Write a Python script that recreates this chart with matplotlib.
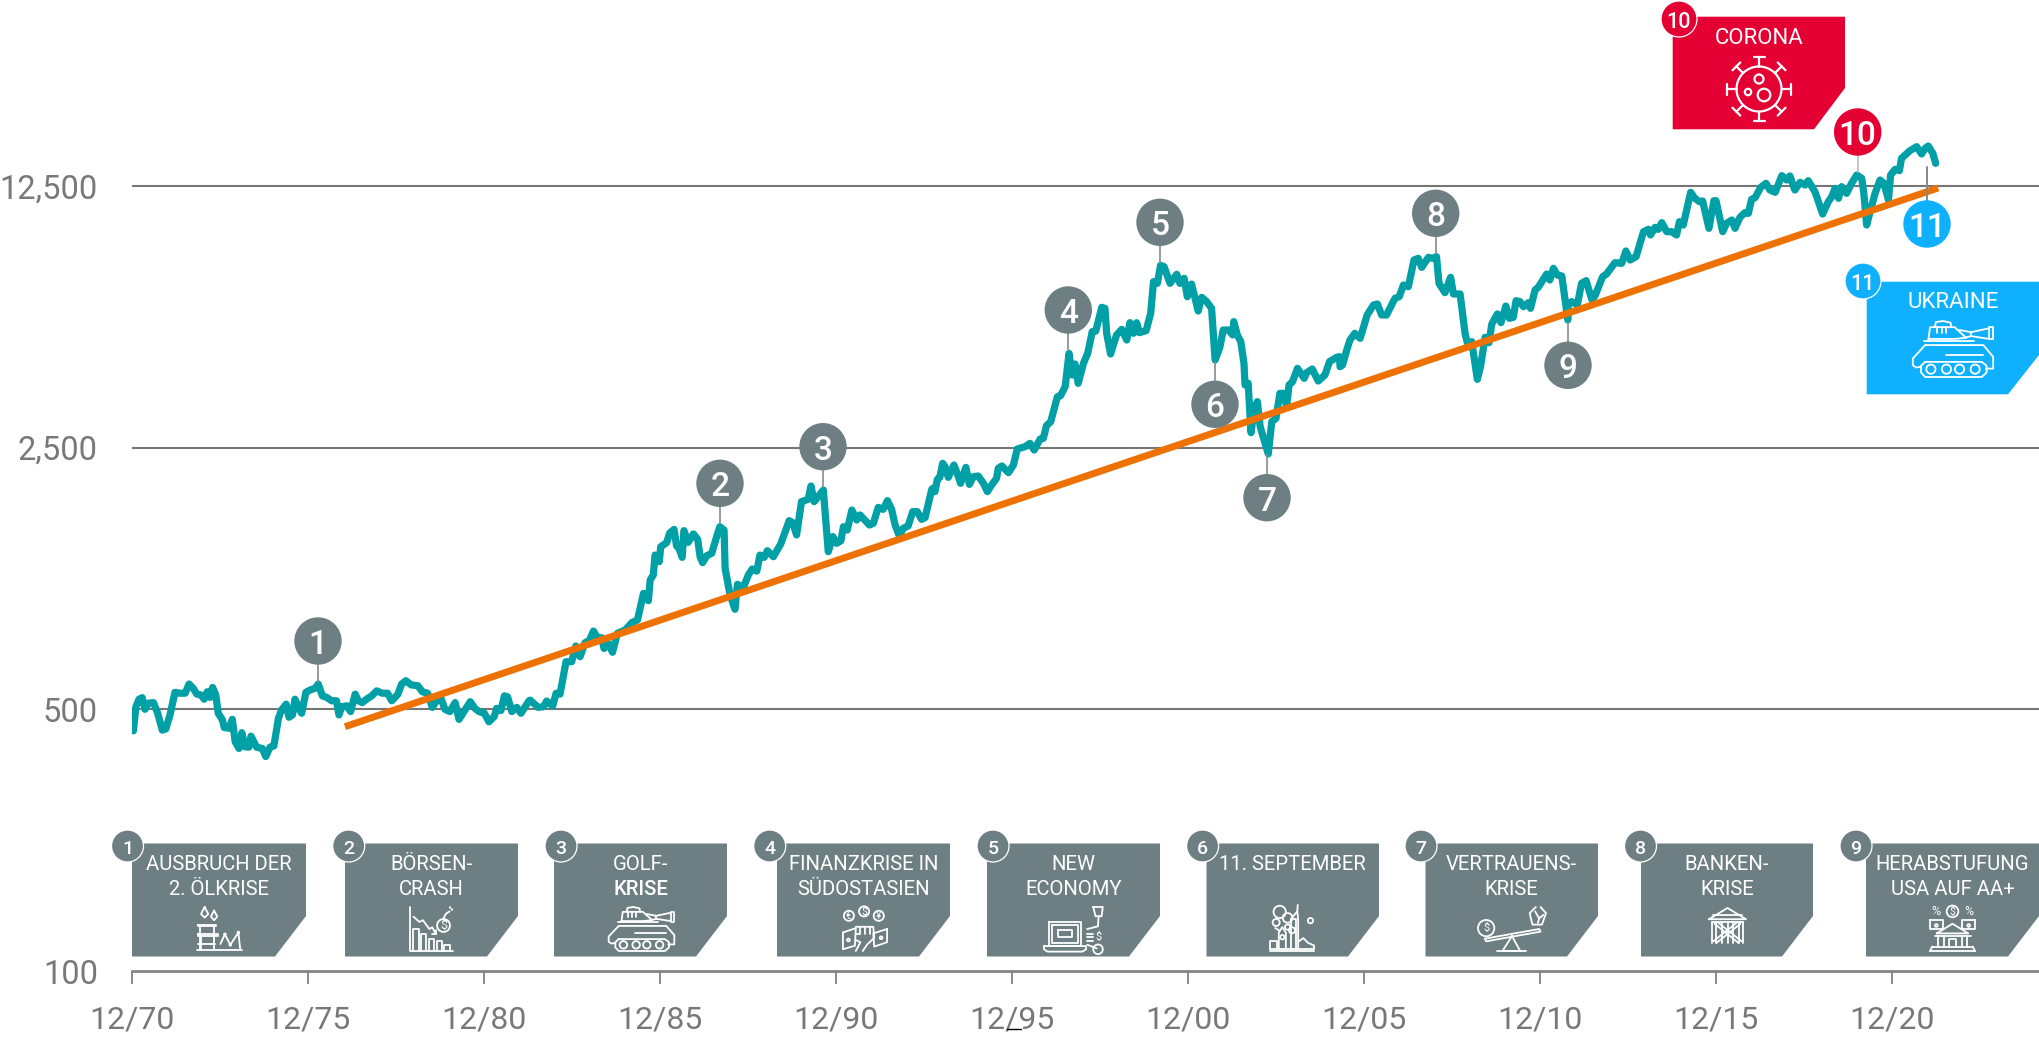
import matplotlib
matplotlib.use('Agg')
import matplotlib.pyplot as plt
from matplotlib.patches import Polygon, Circle, Ellipse
from matplotlib.lines import Line2D

plt.rcParams['font.family'] = ['Roboto', 'DejaVu Sans']

# ---------- data ----------
years_since_1900 = [70.96,71.03,71.12,71.21,71.29,71.38,71.53,71.65,71.78,71.88,72.00,72.14,72.28,72.43,72.54,
72.66,72.76,72.88,72.97,73.06,73.14,73.21,73.30,73.37,73.49,73.54,73.68,73.77,73.85,73.96,74.04,74.13,
74.24,74.30,74.46,74.62,74.72,74.84,74.95,75.08,75.17,75.30,75.38,75.48,75.55,75.66,75.74,75.86,75.98,
76.12,76.21,76.33,76.45,76.59,76.73,76.80,76.88,77.02,77.13,77.26,77.35,77.46,77.62,77.73,77.87,78.03,
78.18,78.30,78.47,78.58,78.70,78.85,79.04,79.17,79.32,79.45,79.60,79.70,79.81,79.95,80.10,80.21,80.38,
80.53,80.66,80.78,80.93,81.06,81.21,81.28,81.40,81.50,81.59,81.71,81.85,81.97,82.20,82.23,82.46,82.61,
82.70,82.87,82.97,83.08,83.25,83.41,83.53,83.65,83.79,83.91,84.03,84.15,84.26,84.33,84.45,84.57,84.71,
84.93,85.12,85.28,85.45,85.59,85.64,85.73,85.78,85.90,85.94,86.11,86.19,86.32,86.39,86.46,
86.55,86.60,86.72,86.87,86.99,87.06,87.13,87.25,87.39,87.53,87.62,87.74,87.77,87.91,88.05,
88.12,88.29,88.43,88.54,88.67,88.76,88.88,88.97,89.14,89.35,89.59,89.69,89.80,89.94,90.13,
90.21,90.30,90.56,90.70,90.83,90.94,91.06,91.13,91.24,91.37,91.51,91.60,91.72,91.87,91.98,
92.12,92.26,92.38,92.50,92.60,92.72,92.83,92.97,93.10,93.23,93.35,93.45,93.64,93.67,93.73,
93.80,93.87,93.95,94.02,94.11,94.27,94.37,94.46,94.61,94.71,94.82,94.96,95.11,95.22,95.34,
95.48,95.53,95.63,95.82,95.96,96.07,96.29,96.43,96.55,96.72,96.81,96.90,97.02,97.11,97.21,
97.30,97.43,97.54,97.63,97.71,97.80,97.95,98.07,98.20,98.30,98.47,98.56,98.61,98.72,98.89,
99.04,99.18,99.27,99.37,99.46,99.54,99.73,99.86,99.94,100.05,100.14,100.24,100.41,100.60,100.69,
100.81,100.90,101.02,101.21,101.31,101.45,101.59,101.69,101.83,101.92,102.07,102.19,102.22,102.32,
102.42,102.51,102.54,102.63,102.71,102.80,102.89,102.97,103.20,103.30,103.42,103.53,103.65,103.72,
103.79,103.89,104.03,104.22,104.29,104.45,104.62,104.81,104.94,105.14,105.22,105.24,105.31,105.43,
105.52,105.66,105.81,106.01,106.19,106.30,106.42,106.56,106.80,106.92,107.04,107.18,107.34,107.46,
107.56,107.75,107.87,107.98,108.05,108.22,108.38,108.46,108.65,108.79,108.86,108.98,109.14,109.23,
109.36,109.47,109.55,109.71,109.81,109.95,110.05,110.16,110.24,110.35,110.45,110.59,110.65,110.78,
110.87,111.11,111.20,111.30,111.41,111.54,111.71,111.72,111.82,111.98,112.10,112.23,112.39,112.48,
112.70,112.81,113.05,113.24,113.36,113.48,113.65,113.86,114.00,114.06,114.19,114.28,114.38,114.52,
114.66,114.80,114.88,114.99,115.20,115.32,115.45,115.54,115.72,115.86,115.92,116.11,116.22,
116.37,116.46,116.60,116.74,116.84,116.93,117.03,117.19,117.34,117.45,117.60,117.79,117.93,
118.02,118.16,118.31,118.45,118.54,118.73,118.83,118.95,119.11,119.21,119.30,119.40,119.49,
119.63,119.77,119.92,120.06,120.12,120.20,120.31,120.44,120.58,120.69,120.82,120.88,121.01,
121.13,121.19,121.43,121.62,121.76,121.86,121.95,122.08,122.16]
index_value = [438,508,532,537,500,519,521,488,440,443,483,555,552,552,584,
569,549,546,532,557,538,572,546,488,468,447,445,470,410,393,433,397,
396,424,396,393,374,396,399,473,498,516,476,483,532,503,488,555,563,
569,584,543,538,527,527,483,508,511,493,549,527,521,535,543,560,552,
552,527,548,584,596,581,578,557,552,506,532,534,500,493,521,470,498,
524,503,493,488,463,478,503,496,543,540,493,506,488,527,529,506,508,
526,510,552,549,670,670,738,691,753,763,809,774,777,727,750,710,798,
814,852,866,1020,975,1107,1142,1291,1240,1359,1393,1476,1512,1365,1346,
1273,1500,1396,1470,1422,1278,1232,1286,1305,1446,1537,1506,1190,1010,925,
1078,1059,1142,1185,1170,1291,1273,1326,1278,1382,1595,1576,1461,1793,1819,
1974,1793,1926,1318,1446,1388,1410,1537,1506,1703,1602,1652,1608,1553,1569,
1731,1710,1804,1710,1553,1452,1522,1544,1686,1686,1608,1625,1934,1946,1907,
2057,2082,2269,2223,2082,2246,2125,2007,2214,1994,2091,2099,2007,1907,1986,
2069,2201,2233,2143,2246,2479,2514,2566,2463,2636,2647,2861,2932,3150,3420,
3441,3637,4464,3907,4180,3712,4198,4464,5100,5121,5923,5887,5048,4446,4997,
5174,4845,5390,5048,5390,5069,5132,5709,6936,6866,7669,7607,6866,7256,6866,
7080,6325,6837,5791,6299,6134,5887,4285,4651,5153,5153,4997,5424,4997,
4796,4198,3674,3712,2740,3150,3316,2843,2404,2932,2993,3490,3490,3216,
3674,3750,4071,3828,3963,4054,3765,3907,4241,4355,4373,4112,4155,4556,
4845,5048,4895,5651,6009,6046,5651,5651,6261,6325,6796,6726,7925,8007,
7575,8056,8007,8089,6866,6483,7124,6430,6430,5048,4747,4796,3804,4112,
4925,4767,5346,5686,5390,5972,5536,5570,6171,6134,5948,6096,5887,6590,
6699,7271,7008,7529,7227,7182,5480,6009,6134,6009,6866,6979,6222,6351,
7153,7271,7796,7764,8376,7925,8089,9433,9570,9242,9688,9570,9970,9433,
9433,9242,10032,9828,12015,11580,11345,11391,9629,11415,11415,9433,9930,
10135,9629,10303,10603,10559,11509,11627,12390,12699,12189,12015,13312,12962,
13285,12189,12777,12569,12909,12064,11345,10516,11345,11699,12314,11580,12441,
11941,12699,13367,13095,11941,9828,10778,11941,12962,12699,11462,13367,13841,
13728,14809,15524,15911,15209,15749,15976,15272,14361]
trend_years = [76.97, 122.23]
trend_values = [449.3, 12340]
grid_levels = [500, 2500, 12500]
y_tick_values = [100, 500, 2500, 12500]
y_tick_labels = ['100', '500', '2,500', '12,500']
x_tick_years = [70.92 + 5 * k for k in range(11)]
x_tick_labels = ['12/70','12/75','12/80','12/85','12/90','12/95','12/00','12/05','12/10','12/15','12/20']
panel_titles = [('AUSBRUCH DER','2. ÖLKRISE'),('BÖRSEN-','CRASH'),('GOLF-','KRISE'),('FINANZKRISE IN','SÜDOSTASIEN'),
                ('NEW','ECONOMY'),('11. SEPTEMBER',''),('VERTRAUENS-','KRISE'),('BANKEN-','KRISE'),('HERABSTUFUNG','USA AUF AA+')]

# ---------- colours ----------
TEAL = '#00A0A6'; ORANGE = '#EE7203'; GRID = '#767676'; SLATE = '#6E7F83'
TXT = '#787878'; RED = '#E40032'; BLUE = '#0FB1FF'

W, H = 2039, 1038
fig = plt.figure(figsize=(W/100, H/100), dpi=100)
ax = fig.add_axes([132/W, 1-971/H, (W-132)/W, 971/H])
ax.set_yscale('log')
ax.set_xlim(70.92, 70.92 + (W-132)/35.2)
ax.set_ylim(100, 100 * 5 ** (971/261.7))
for lv in grid_levels:
    ax.axhline(lv, color=GRID, lw=1.5, zorder=1)
ax.plot(years_since_1900, index_value, color=TEAL, lw=5.2, solid_joinstyle='round', solid_capstyle='round', zorder=2)
ax.plot(trend_years, trend_values, color=ORANGE, lw=5.0, solid_capstyle='butt', zorder=3)
for s in ['top', 'left', 'right']:
    ax.spines[s].set_visible(False)
ax.spines['bottom'].set_color('#858585'); ax.spines['bottom'].set_linewidth(2.0)
ax.set_xticks(x_tick_years); ax.set_xticklabels(x_tick_labels, fontsize=23, color=TXT)
ax.tick_params(axis='x', length=9, width=1.1, color='#6a6a6a', pad=15.5)
ax.set_yticks(y_tick_values); ax.set_yticklabels(y_tick_labels, fontsize=23.5, color=TXT)
ax.minorticks_off()
ax.tick_params(axis='y', length=0, pad=24.5)
ax.patch.set_alpha(0)

ov = fig.add_axes([0, 0, 1, 1], zorder=5)
ov.set_xlim(0, W); ov.set_ylim(H, 0); ov.axis('off')

LW = 1.3
def line(pts, c='white', lw=LW, z=8):
    ov.add_line(Line2D([p[0] for p in pts], [p[1] for p in pts], color=c, lw=lw, zorder=z,
                       solid_joinstyle='round', solid_capstyle='round'))

class Ic:
    """Icon canvas: unit box 0..100 mapped on a pixel box."""
    def __init__(s, x0, y0, x1, y1):
        s.x0, s.y0, s.sx, s.sy = x0, y0, (x1-x0)/100, (y1-y0)/100
    def p(s, pts):
        return [(s.x0+x*s.sx, s.y0+y*s.sy) for x, y in pts]
    def l(s, *pts):
        line(s.p(pts))
    def o(s, cx, cy, r, fc='none'):
        (x, y), = s.p([(cx, cy)])
        ov.add_patch(Ellipse((x, y), 2*r, 2*r, fc=fc, ec='white', lw=LW, zorder=8))
    def t(s, x, y, txt, fs=7):
        (a, b), = s.p([(x, y)])
        ov.text(a, b, txt, color='white', fontsize=fs, ha='center', va='center', zorder=9)

def tank(x0, y0, x1, y1):
    i = Ic(x0, y0, x1, y1); r = (x1-x0)/100
    i.l((16,43),(87,43),(99,64),(99,85),(90,85))
    i.l((16,43),(1,67),(1,79),(5,83),(10,82))
    i.l((16,73),(85,73),(91,80),(91,92),(85,100),(16,100),(11,92),(11,80),(16,73))
    for cx in (23,42,58,77):
        i.o(cx, 86, 5.6*r)
    i.l((41,60),(87,60))
    i.l((15,35),(75,35))
    i.l((20,34),(22,11),(52,11),(66,30),(52,32),(20,32))
    i.l((28,11),(29,2),(38,0),(47,3),(48,11))
    i.l((30,11),(30,22)); i.l((36,11),(36,22)); i.l((42,11),(42,22))
    i.l((58,16),(72,20),(94,13),(94,32),(72,27),(64,30))
    i.l((94,11),(99,11),(99,33),(94,33)); i.l((72,20),(72,27))

def barrel_chart(x0, y0, x1, y1):
    i = Ic(x0, y0, x1, y1); r = (x1-x0)/100
    i.l((17,0),(9,16),(17,24),(25,16),(17,0)); i.l((38,8),(31,22),(38,30),(45,22),(38,8))
    i.l((2,40),(42,40),(42,44),(2,44),(2,40))
    i.l((2,62),(47,62),(47,66),(2,66),(2,62))
    i.l((6,44),(6,97)); i.l((38,44),(38,97)); i.l((8,66),(8,97))
    i.l((0,98),(100,98)); i.l((2,84),(40,84))
    i.l((52,84),(62,62),(74,86),(92,58),(96,96))
    for cx, cy in ((62,62),(92,58),(74,86)):
        i.o(cx, cy, 1.8*r, fc=SLATE)

def chart_bomb(x0, y0, x1, y1):
    i = Ic(x0, y0, x1, y1); r = (x1-x0)/100
    i.l((0,0),(0,100),(100,100))
    for x, h in ((8,50),(26,38),(44,28),(62,22),(80,14)):
        i.l((x,100),(x,100-h),(x+12,100-h),(x+12,100))
    i.l((8,22),(22,34),(30,30),(45,50),(52,46),(60,62)); i.l((52,62),(60,62),(60,52))
    i.o(78, 42, 15*r); i.t(78, 42, '$', 9)
    i.l((78,25),(84,15),(92,10)); i.l((98,4),(98,6)); i.l((92,0),(92,2))

def money_hand(x0, y0, x1, y1):
    i = Ic(x0, y0, x1, y1); r = (x1-x0)/100
    for cx, cy, s in ((15,20,'€'),(48,10,'$'),(80,20,'¥')):
        i.o(cx, cy, 11*r); i.t(cx, cy, s, 7.5)
    i.l((2,58),(30,48),(28,88),(2,96),(2,58))
    i.l((98,50),(68,60),(70,90),(98,80),(98,50))
    i.l((30,45),(68,45),(70,70),(55,85),(45,100))
    i.l((30,62),(40,62)); i.l((40,45),(40,62)); i.l((50,45),(50,62)); i.l((60,45),(60,62))
    i.l((30,75),(40,80),(30,100)); i.o(14,75,3*r); i.o(85,70,3*r)

def laptop_shop(x0, y0, x1, y1):
    i = Ic(x0, y0, x1, y1); r = (x1-x0)/100
    i.l((8,33),(62,33),(62,85),(8,85),(8,33))
    i.l((14,40),(56,40),(56,78),(14,78),(14,40))
    i.l((24,50),(46,50),(46,66),(24,66),(24,50))
    i.l((0,85),(70,85),(70,92),(64,97),(6,97),(0,92),(0,85))
    i.l((82,0),(98,0),(96,20),(86,20),(82,0)); i.l((91,20),(90,42),(72,48))
    i.l((72,58),(82,58)); i.l((72,66),(82,66)); i.l((72,74),(82,74))
    i.t(91, 65, '$', 8); i.l((72,82),(88,90)); i.o(90, 92, 8*r)

def city_smoke(x0, y0, x1, y1):
    i = Ic(x0, y0, x1, y1); r = (x1-x0)/100
    i.l((0,100),(100,100)); i.l((0,95),(100,95))
    i.l((58,95),(58,30),(48,30),(48,95)); i.l((48,30),(62,14),(64,30),(64,95)); i.l((62,14),(63,0))
    i.l((0,95),(0,78),(16,78),(16,95)); i.l((20,95),(20,60),(28,48),(36,60),(36,95))
    i.l((64,80),(76,72),(86,82),(100,88),(100,95))
    i.o(22,15,14*r); i.o(40,28,11*r); i.o(14,38,8*r); i.o(50,55,7*r); i.o(28,70,5*r); i.o(92,34,6*r); i.o(40,48,6*r)
    i.l((12,50),(22,56))

def seesaw(x0, y0, x1, y1):
    i = Ic(x0, y0, x1, y1); r = (x1-x0)/100
    i.l((10,72),(90,50),(92,56),(12,78),(10,72))
    i.l((50,66),(36,100),(62,100),(50,66)); i.l((28,100),(70,100))
    i.o(12,48,12*r); i.t(12,48,'$',8)
    i.l((85,0),(76,14),(80,40),(94,40),(100,14),(92,0))
    i.l((84,10),(90,26),(88,36)); i.l((90,26),(96,18))

def barn(x0, y0, x1, y1):
    i = Ic(x0, y0, x1, y1)
    i.l((0,32),(50,0),(100,32),(0,32)); i.l((12,20),(88,20))
    i.l((8,40),(92,40)); i.l((8,40),(8,100)); i.l((92,40),(92,100))
    for x in (20,35,50,65,80):
        i.l((x,40),(x,100))
    i.l((15,45),(80,100)); i.l((25,42),(88,95)); i.l((85,45),(20,100)); i.l((75,42),(12,95))

def bank(x0, y0, x1, y1):
    i = Ic(x0, y0, x1, y1); r = (x1-x0)/100
    i.t(13,10,'%',9); i.t(87,10,'%',9); i.o(50,10,13*r); i.t(50,10,'$',7.5)
    i.l((0,30),(28,30),(28,50),(0,50),(0,30)); i.l((100,30),(72,30),(72,50),(100,50),(100,30))
    i.o(14,42,3*r); i.o(86,42,3*r)
    i.l((15,60),(50,38),(85,60),(15,60)); i.l((10,66),(90,66))
    for x in (18,30,70,82):
        i.l((x,66),(x,90))
    i.l((42,90),(42,72),(58,72),(58,90)); i.l((5,90),(95,90)); i.l((0,100),(100,100)); i.l((5,90),(0,100)); i.l((95,90),(100,100))

def virus(cx, cy):
    import math
    ov.add_patch(Circle((cx, cy), 22.5, fc='none', ec='white', lw=1.6, zorder=8))
    for k in range(8):
        a = k*math.pi/4
        c, s = math.cos(a), math.sin(a)
        line([(cx+22.5*c, cy+22.5*s), (cx+32*c, cy+32*s)], lw=1.6)
        line([(cx+32*c-5.5*s, cy+32*s+5.5*c), (cx+32*c+5.5*s, cy+32*s-5.5*c)], lw=1.6)
    for dx, dy, r in ((0,-10,4.5),(-11,3,3.2),(5,6,6.3)):
        ov.add_patch(Circle((cx+dx, cy+dy), r, fc='none', ec='white', lw=1.6, zorder=8))

def panel(l, t, r, b, cy, cb, col):
    ov.add_patch(Polygon([(l,t),(r,t),(r,cy),(cb,b),(l,b)], closed=True, fc=col, ec='none', zorder=6))

def badge(x, y, rad, txt, col, fs, ring=False, fw='medium', z=7):
    ov.add_patch(Circle((x, y), rad, fc=col, ec='white' if ring else 'none', lw=0.9, zorder=z))
    ov.text(x, y+0.5, txt, color='white', fontsize=fs, ha='center', va='center_baseline', fontweight=fw, zorder=z+1)

# bottom panels
lefts  = [132,345,554,777,987,1206.5,1425.5,1641,1866]
rights = [306,518,727,950,1160,1379,1598,1813,2039]
badge_x = [127.5,348.7,561,769.7,993,1202.6,1421,1640.5,1856]
icons = [(barrel_chart,(197,907,242,951)),(chart_bomb,(410,907,453,951)),(tank,(608,907,675,951)),
         (money_hand,(842,907,888,951)),(laptop_shop,(1044,907,1104,953)),(city_smoke,(1270,905,1314,951)),
         (seesaw,(1478,907,1546,951)),(barn,(1709,908,1746,943)),(bank,(1930,907,1975,951))]
for n, (l, r) in enumerate(zip(lefts, rights)):
    panel(l, 843.5, r, 956.5, 916, r-31, SLATE)
    badge(badge_x[n], 846, 16, str(n+1), SLATE, 14, ring=True)
    cx = (l+r)/2
    a, b = panel_titles[n]
    ov.text(cx, 864, a, color='white', fontsize=14.6, ha='center', va='center', zorder=8)
    if b:
        ov.text(cx, 889.5, b, color='white', fontsize=14.6, ha='center', va='center', zorder=8,
                fontweight='medium' if n == 2 else 'normal')
    f, bx = icons[n]
    f(*bx)

# corona / ukraine panels
panel(1672.7, 16.7, 1845, 129.3, 88, 1814, RED)
badge(1679, 19, 18, '10', RED, 15.5, ring=True)
ov.text(1758.7, 38, 'CORONA', color='white', fontsize=16, ha='center', va='center', zorder=8)
virus(1759, 89)
panel(1866.7, 281.7, 2039, 394.3, 355, 2008, BLUE)
badge(1863, 281, 18, '11', BLUE, 15.5, ring=True)
ov.text(1953, 303, 'UKRAINE', color='white', fontsize=16, ha='center', va='center', zorder=8)
tank(1912, 321, 1994, 377)

# chart callouts
callouts = [(318,641,681.7,'1'),(720,483.3,523,'2'),(823,446.7,487,'3'),(1068.3,310,351,'4'),(1160,222.3,262.7,'5'),
            (1215,404.3,361.7,'6'),(1267,497.7,454,'7'),(1435.7,213.3,253.3,'8'),(1568,365.3,321.7,'9')]
for x, y, e, t in callouts:
    line([(x, y), (x, e)], c='#808c90', lw=1.2, z=4)
    badge(x, y, 23.7, t, SLATE, 24, z=6)
line([(1857.7,132),(1857.7,171.7)], c='#b9bdc0', lw=1.2, z=4)
badge(1857.7, 132, 23.7, '10', RED, 24, z=6)
line([(1927,167),(1927,224)], c='#808c90', lw=1.4, z=4)
badge(1927, 224, 23.7, '11', BLUE, 24, z=6)
line([(1007,1029),(1021,1029)], c='black', lw=1.0, z=4)

fig.savefig('out.png', dpi=100)
